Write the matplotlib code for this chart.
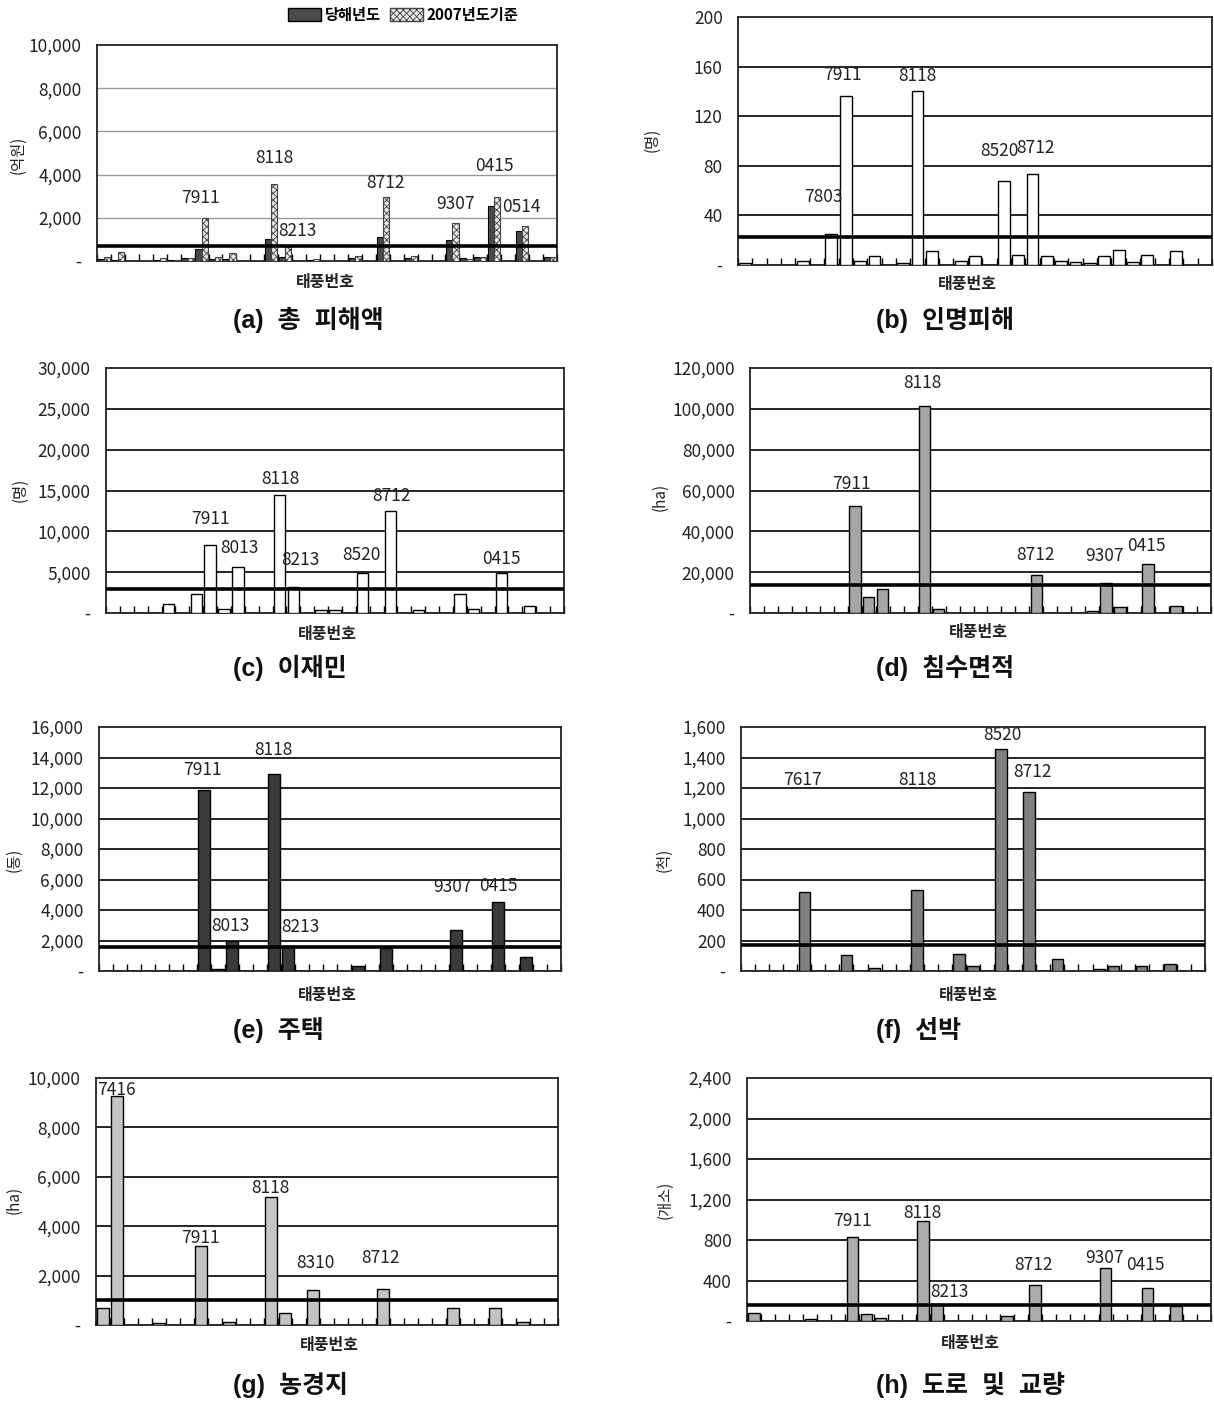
import matplotlib
matplotlib.use("Agg")
import matplotlib.pyplot as plt
from matplotlib.patches import Patch
from matplotlib.ticker import FuncFormatter, FixedLocator

plt.rcParams['font.family'] = ['Liberation Sans Narrow', 'Noto Sans CJK KR', 'DejaVu Sans']
plt.rcParams['hatch.linewidth'] = 0.6

# typhoon numbers (yymm order); only some are labelled in the figure
typhoon_ids = ['7408', '7416', '7503', '7613', '7617', '7705', '7803', '7911', '7918',
               '8013', '8105', '8110', '8118', '8213', '8305', '8310', '8410', '8506',
               '8520', '8705', '8712', '8911', '9115', '9119', '9209', '9307', '9505',
               '9907', '0415', '0418', '0514', '0603', '0711']

# (a) total damage, 100 million won
damage_current = [100, 60, 0, 20, 40, 30, 120, 540, 110, 80, 0, 0, 1020, 170, 10, 30, 20,
                  0, 130, 0, 1130, 0, 130, 0, 0, 970, 120, 180, 2560, 0, 1400, 0, 180]
damage_2007 = [200, 430, 10, 50, 120, 60, 120, 2000, 170, 350, 10, 0, 3560, 660, 20, 80, 60,
               0, 230, 0, 2980, 0, 230, 10, 0, 1770, 80, 200, 2980, 0, 1620, 0, 200]
# (b) casualties
casualties = [1.5, 0, 0, 0, 3, 0, 25, 136, 3, 7.5, 0, 2, 140, 11, 0, 3.5, 7,
              0, 68, 8, 73, 7, 3, 2.5, 1.5, 7, 12, 2.5, 8, 0, 11, 0, 0]
# (c) evacuees
evacuees = [0, 0, 0, 0, 1100, 0, 2330, 8290, 530, 5630, 0, 0, 14450, 3140, 0, 330, 330,
            0, 4940, 0, 12530, 0, 330, 0, 0, 2330, 490, 0, 4940, 0, 900, 0, 0]
# (d) flooded area, ha
flooded = [0, 0, 0, 0, 0, 0, 0, 52650, 7900, 11750, 0, 0, 101450, 1930, 0, 0, 0,
           0, 0, 0, 18500, 0, 0, 0, 800, 14800, 2700, 0, 24000, 0, 3540, 0, 0]
# (e) houses
houses = [0, 0, 0, 0, 0, 0, 0, 11900, 150, 1960, 0, 0, 12900, 1640, 0, 0, 0,
          0, 330, 0, 1530, 0, 0, 0, 0, 2690, 0, 0, 4540, 0, 940, 0, 0]
# (f) ships
ships = [0, 0, 0, 0, 520, 0, 0, 104, 0, 17, 0, 0, 529, 0, 0, 113, 33,
         0, 1458, 0, 1176, 0, 76, 0, 0, 13, 33, 0, 33, 0, 43, 0, 0]
# (g) farmland, ha
farmland = [700, 9270, 0, 0, 70, 0, 0, 3210, 0, 135, 0, 0, 5200, 500, 0, 1410, 0,
            0, 0, 0, 1475, 0, 0, 0, 0, 700, 0, 0, 700, 0, 135, 0, 0]
# (h) roads and bridges
roads = [82, 0, 0, 0, 16, 0, 0, 831, 66, 33, 0, 0, 986, 171, 0, 0, 0,
         0, 49, 0, 359, 0, 0, 0, 0, 527, 0, 0, 326, 0, 148, 0, 0]

averages = [700, 22.5, 2980, 13530, 1570, 173, 1015, 155]
y_max = [10000, 200, 30000, 120000, 16000, 1600, 10000, 2400]
y_step = [2000, 40, 5000, 20000, 2000, 200, 2000, 400]
units = ['(억원)', '(명)', '(명)', '(ha)', '(동)', '(척)', '(ha)', '(개소)']
captions = ['(a)  총  피해액', '(b)  인명피해', '(c)  이재민', '(d)  침수면적',
            '(e)  주택', '(f)  선박', '(g)  농경지', '(h)  도로  및  교량']
labelled = [['7911', '8118', '8213', '8712', '9307', '0415', '0514'],
            ['7803', '7911', '8118', '8520', '8712'],
            ['7911', '8013', '8118', '8213', '8520', '8712', '0415'],
            ['7911', '8118', '8712', '9307', '0415'],
            ['7911', '8013', '8118', '8213', '9307', '0415'],
            ['7617', '8118', '8520', '8712'],
            ['7416', '7911', '8118', '8310', '8712'],
            ['7911', '8118', '8213', '8712', '9307', '0415']]

W, H = 1214, 1402
fig = plt.figure(figsize=(W / 100, H / 100), dpi=100)


def rect(l, r, t, b):
    return [l / W, 1 - b / H, (r - l) / W, (b - t) / H]


# axes boxes in pixels: left, right, top, bottom
boxes = [(97, 557, 45, 261), (738, 1212, 17, 265),
         (106, 564, 368, 613), (750, 1211, 368, 613),
         (99, 561, 727, 971), (741, 1205, 727, 971),
         (96, 558, 1078, 1325), (747, 1211, 1078, 1321)]
series = [damage_2007, casualties, evacuees, flooded, houses, ships, farmland, roads]
colors = [None, 'white', 'white', '#a6a6a6', '#3a3a3a', '#808080', '#c4c4c4', '#acacac']
unit_pos = [(18, 155), (652, 140), (20, 490), (660, 497),
            (14, 860), (664, 860), (14, 1200), (665, 1200)]
xlabel_pos = [(325, 282), (967, 284), (327, 634), (978, 632),
              (327, 995), (968, 995), (329, 1345), (970, 1343)]
caption_pos = [(233, 320), (876, 320), (233, 668), (876, 668),
               (233, 1030), (876, 1030), (233, 1385), (876, 1385)]
# label offsets (dx, dy) in pixels from bar top
label_off = [{'7911': (-4, 20), '8118': (0, 26), '8213': (9, 16), '8712': (0, 14),
              '9307': (0, 19), '0415': (-3, 31), '0514': (-4, 19)},
             {'7803': (-8, 37), '7911': (-3, 21), '8118': (0, 15), '8520': (-4, 30),
              '8712': (3, 26)},
             {'7911': (0, 26), '8013': (2, 19), '8118': (1, 16), '8213': (7, 27),
              '8520': (-1, 18), '8712': (1, 15), '0415': (0, 14)},
             {'7911': (-3, 22), '8118': (-2, 23), '8712': (-1, 20), '9307': (-2, 27),
              '0415': (-2, 18)},
             {'7911': (-2, 20), '8013': (-2, 15), '8118': (-1, 24), '8213': (12, 19),
              '9307': (-3, 43), '0415': (0, 16)},
             {'7617': (-2, 112), '8118': (1, 110), '8520': (1, 14), '8712': (3, 20)},
             {'7416': (-1, 6), '7911': (-1, 8), '8118': (-1, 9), '8310': (2, 27),
              '8712': (-2, 31)},
             {'7911': (0, 16), '8118': (0, 8), '8213': (13, 12), '8712': (-2, 20),
              '9307': (-1, 10), '0415': (-2, 23)}]


def fmt(v, pos):
    return '-' if v == 0 else '{:,}'.format(int(v))


x = list(range(len(typhoon_ids)))
for i, (l, r, t, b) in enumerate(boxes):
    ax = fig.add_axes(rect(l, r, t, b))
    if i == 0:
        xa = [k - 0.22 for k in x]
        xb = [k + 0.22 for k in x]
        ax.bar(xa, damage_current, width=0.44, color='#4a4a4a', edgecolor='black', lw=0.8, zorder=3)
        ax.bar(xb, damage_2007, width=0.44, color='#e6e6e6', edgecolor='#444444',
               hatch='xxxxx', lw=0.8, zorder=3)
        bar_x = xb
        grid_c, grid_w = '#9a9a9a', 1.0
    else:
        ax.bar(x, series[i], width=0.82, color=colors[i], edgecolor='black', lw=1.0, zorder=3)
        bar_x = x
        grid_c, grid_w = 'black', 1.2
    vals = series[i]
    ax.set_xlim(-0.5, len(x) - 0.5)
    ax.set_ylim(0, y_max[i])
    ticks = list(range(0, y_max[i] + 1, y_step[i]))
    ax.yaxis.set_major_locator(FixedLocator(ticks))
    ax.yaxis.set_major_formatter(FuncFormatter(fmt))
    for tv in ticks[1:-1]:
        ax.axhline(tv, color=grid_c, lw=grid_w, zorder=1)
    ax.axhline(averages[i], color='black', lw=2.6, zorder=4)
    ax.set_xticks([k - 0.5 for k in range(len(x) + 1)])
    ax.set_xticklabels([])
    ax.tick_params(axis='x', direction='in', length=5, width=1, color='black')
    ax.tick_params(axis='y', length=0, pad=11, labelsize=12.5, labelcolor='#222222')
    for s in ax.spines.values():
        s.set_linewidth(1.3)
        s.set_color('#222222')
    for name in labelled[i]:
        k = typhoon_ids.index(name)
        dx, dy = label_off[i][name]
        ax.annotate(name, (bar_x[k], vals[k]), xytext=(dx, dy), textcoords='offset pixels',
                    ha='center', va='center', fontsize=12.5, color='#222222', zorder=5)
    ux, uy = unit_pos[i]
    fig.text(ux / W, 1 - uy / H, units[i], rotation=90, ha='center', va='center',
             fontsize=11, color='#222222')
    lx, ly = xlabel_pos[i]
    fig.text(lx / W, 1 - ly / H, '태풍번호', ha='center', va='center', fontsize=11.5,
             color='#222222', family=['Noto Sans CJK KR'], weight='bold')
    cx, cy = caption_pos[i]
    fig.text(cx / W, 1 - cy / H, captions[i], ha='left', va='center', fontsize=18,
             weight='bold', color='#111111', family=['Liberation Sans', 'Noto Sans CJK KR'])
    if i == 0:
        handles = [Patch(facecolor='#4a4a4a', edgecolor='black'),
                   Patch(facecolor='#e6e6e6', edgecolor='#444444', hatch='xxxxx')]
        fig.legend(handles, ['당해년도', '2007년도기준'], loc='center', ncol=2,
                   bbox_to_anchor=(403 / W, 1 - 15 / H), frameon=False,
                   handlelength=2.2, handleheight=0.9, columnspacing=0.6, handletextpad=0.2,
                   prop={'family': ['Liberation Sans Narrow', 'Noto Sans CJK KR'], 'size': 11,
                         'weight': 'bold'})

fig.savefig('out.png', dpi=100, facecolor='white')
